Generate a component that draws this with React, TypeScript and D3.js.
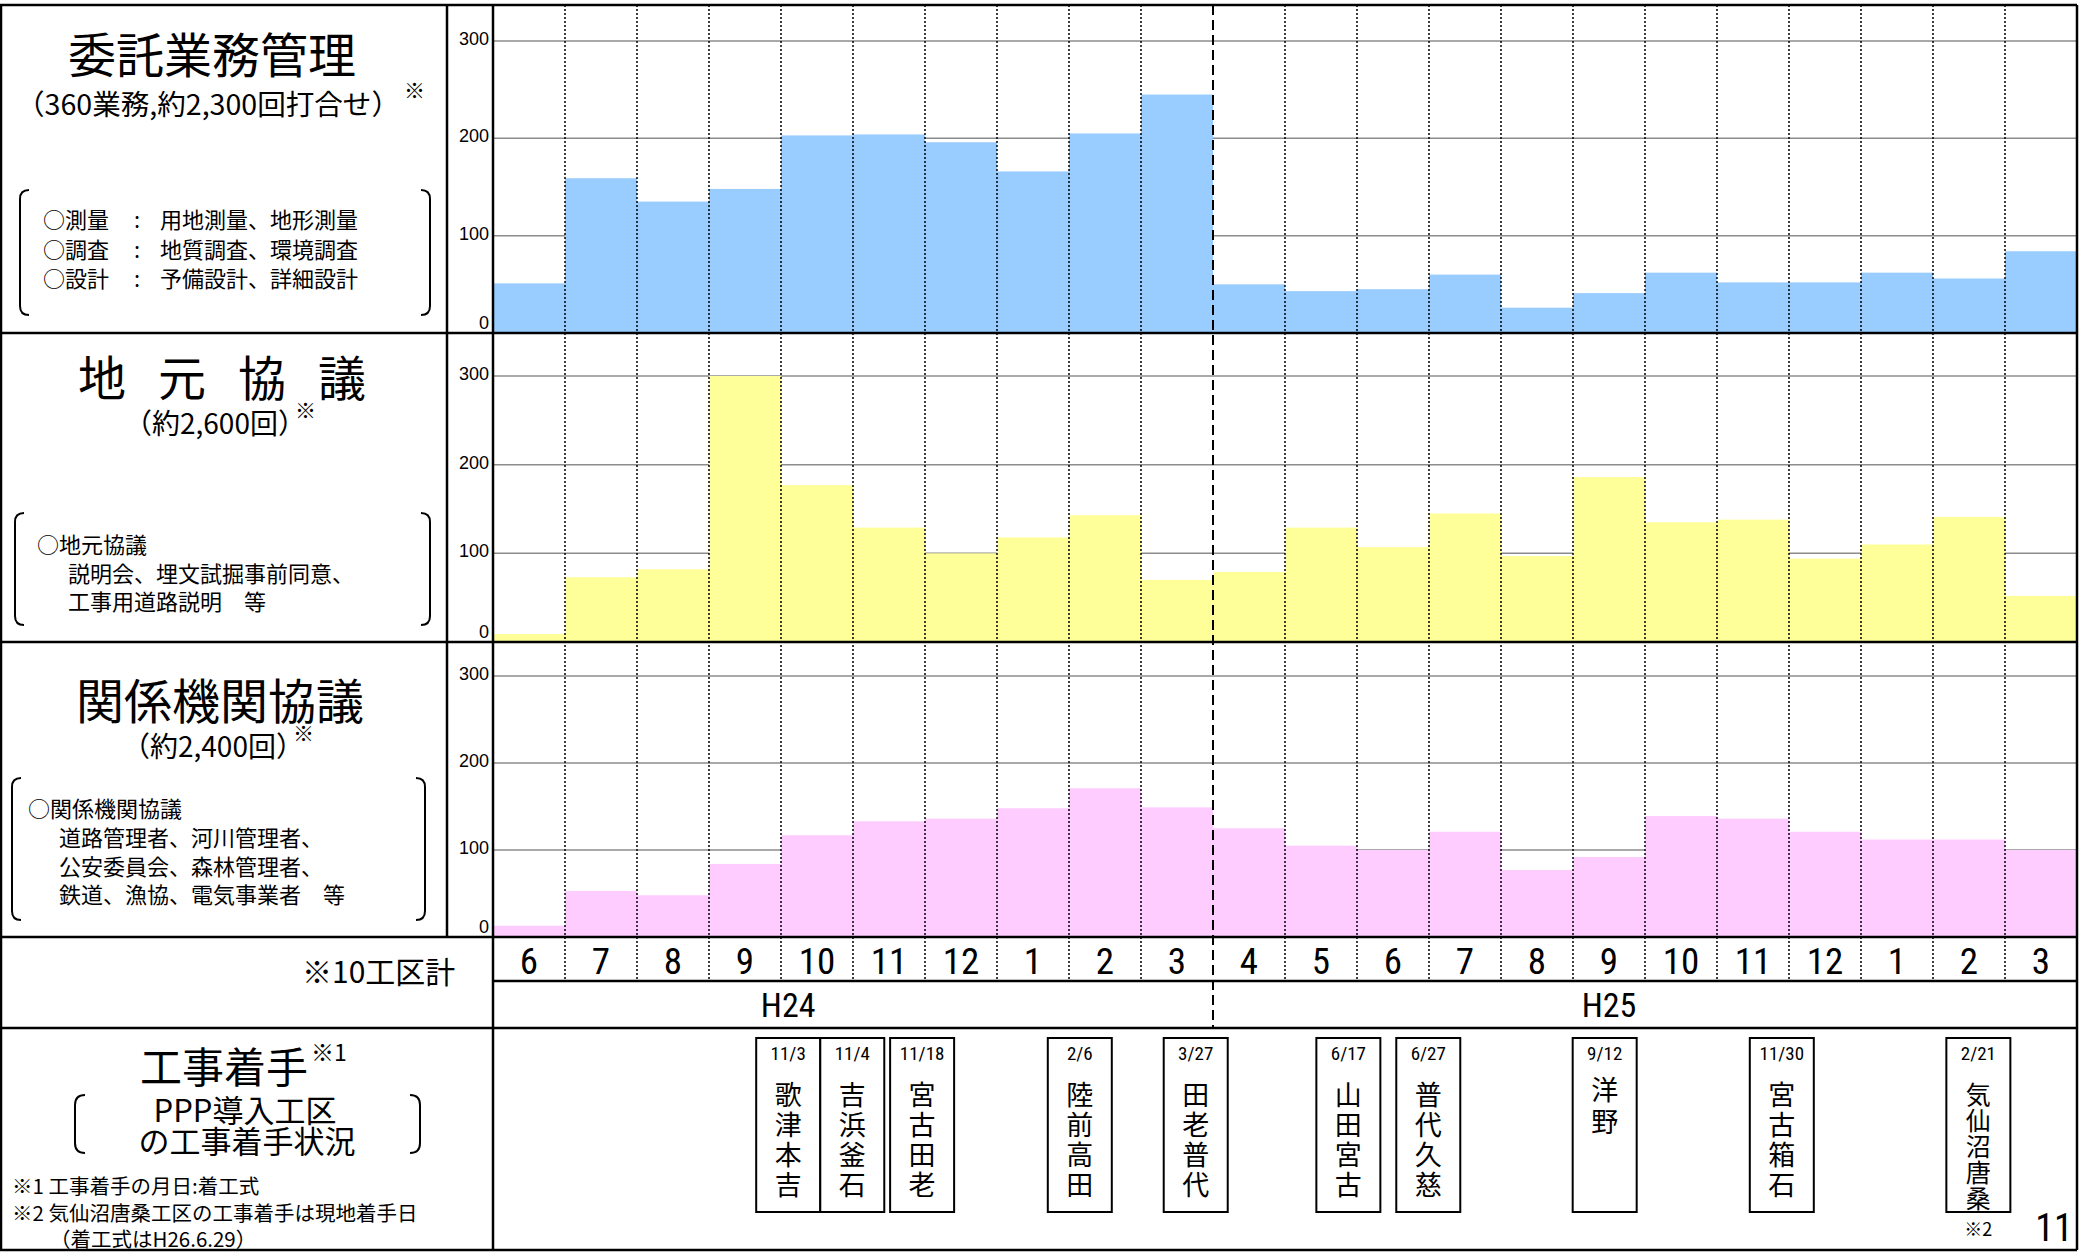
import React from 'react';
import * as d3 from 'd3';

// monthly counts, H24.6 - H26.3
const months = ['6', '7', '8', '9', '10', '11', '12', '1', '2', '3', '4', '5', '6', '7', '8', '9', '10', '11', '12', '1', '2', '3'];
const consignment = [51, 159, 135, 148, 203, 204, 196, 166, 205, 245, 50, 43, 45, 60, 26, 41, 62, 52, 52, 62, 56, 84];
const localTalks = [9, 73, 82, 300, 177, 129, 100, 118, 143, 70, 79, 129, 107, 145, 97, 186, 135, 138, 94, 110, 141, 52];
const agencyTalks = [13, 53, 48, 84, 117, 133, 136, 148, 171, 149, 125, 105, 100, 121, 77, 92, 139, 136, 121, 112, 112, 100];
const yTicks = [0, 100, 200, 300];
const fiscalYears = ['H24', 'H25'];
const yearSplit = 10; // index where H25 starts

const startDates = ['11/3', '11/4', '11/18', '2/6', '3/27', '6/17', '6/27', '9/12', '11/30', '2/21'];
const sections = ['歌津本吉', '吉浜釜石', '宮古田老', '陸前高田', '田老普代', '山田宮古', '普代久慈', '洋野', '宮古箱石', '気仙沼唐桑'];

// layout (in month units along the axis)
const boxSlots = [4.1, 4.99, 5.96, 8.15, 9.76, 11.88, 12.99, 15.44, 17.9, 20.63];
const yearLabelSlots = [4.1, 15.5];

const W = 2080, H = 1254;
const plotLeft = 493, plotRight = 2077;
const JP = "'Noto Sans CJK JP', 'Noto Sans', sans-serif";
const NARROW = "'Liberation Sans Narrow', 'Roboto Condensed', 'Noto Sans CJK JP', sans-serif";
const SANS = "'Liberation Sans', Arial, sans-serif";

const panels = [
    { values: consignment, color: '#99CCFF', base: 333, y300: 41 },
    { values: localTalks, color: '#FFFF99', base: 642, y300: 376 },
    { values: agencyTalks, color: '#FFCCFF', base: 937, y300: 676 },
];

function bracket(xl: number, xr: number, yt: number, yb: number, r = 9) {
    const left = `M${xl + r},${yt} Q${xl},${yt} ${xl},${yt + r} L${xl},${yb - r} Q${xl},${yb} ${xl + r},${yb}`;
    const right = `M${xr - r},${yt} Q${xr},${yt} ${xr},${yt + r} L${xr},${yb - r} Q${xr},${yb} ${xr - r},${yb}`;
    return (
        <g fill="none" stroke="#000" strokeWidth={2}>
            <path d={left} />
            <path d={right} />
        </g>
    );
}

// several lines in one text element
function lines(rows: { s: string, x: number }[], y0: number, step: number, size: number) {
    return (
        <text y={y0} fontSize={size} fontFamily={JP} dominantBaseline="central">
            {rows.map((r, i) => (
                <tspan key={i} x={r.x} y={y0 + i * step}>{r.s}</tspan>
            ))}
        </text>
    );
}

export default function App() {
    const x = d3.scaleBand<number>().domain(d3.range(months.length)).range([plotLeft, plotRight]).padding(0);
    const pos = d3.scaleLinear().domain([0, months.length]).range([plotLeft, plotRight]);
    const bw = x.bandwidth();

    const txt = (s: string, px: number, py: number, size: number, extra: any = {}) => (
        <text x={px} y={py} fontSize={size} fontFamily={JP} dominantBaseline="central" {...extra}>{s}</text>
    );

    return (
        <svg width={W} height={H} style={{ position: 'absolute', left: 0, top: 0, background: '#fff' }}>
            <rect x={0} y={0} width={W} height={H} fill="#fff" />

            {/* bar panels */}
            {panels.map((p, pi) => {
                const y = d3.scaleLinear().domain([0, 300]).range([p.base, p.y300]);
                return (
                    <g key={pi}>
                        {yTicks.filter(t => t > 0).map(t => (
                            <line key={t} x1={plotLeft} x2={plotRight} y1={y(t)} y2={y(t)} stroke="#8c8c8c" strokeWidth={1.5} />
                        ))}
                        {p.values.map((v, i) => (
                            <rect key={i} x={x(i)} y={y(v)} width={bw} height={p.base - y(v)} fill={p.color} />
                        ))}
                        {yTicks.map(t => (
                            <text key={t} x={489} y={t === 0 ? y(t) - 10 : y(t) - 2} textAnchor="end"
                                dominantBaseline="central" fontSize={18} fontFamily={SANS}>{t}</text>
                        ))}
                    </g>
                );
            })}

            {/* month boundaries */}
            {d3.range(1, months.length).map(i => i === yearSplit ? (
                <line key={i} x1={x(i)} x2={x(i)} y1={5} y2={1028} stroke="#000" strokeWidth={2} strokeDasharray="10 5" />
            ) : (
                <line key={i} x1={x(i)} x2={x(i)} y1={5} y2={981} stroke="#000" strokeWidth={1.5} strokeDasharray="2 2" />
            ))}

            {/* frame */}
            <g stroke="#000" strokeWidth={2.5}>
                <line x1={0} x2={plotRight} y1={5} y2={5} />
                <line x1={0} x2={plotRight} y1={333} y2={333} />
                <line x1={0} x2={plotRight} y1={642} y2={642} />
                <line x1={0} x2={plotRight} y1={937} y2={937} />
                <line x1={plotLeft} x2={plotRight} y1={981} y2={981} />
                <line x1={0} x2={plotRight} y1={1028} y2={1028} />
                <line x1={0} x2={plotRight} y1={1250} y2={1250} />
                <line x1={1} x2={1} y1={5} y2={1250} />
                <line x1={447} x2={447} y1={5} y2={937} />
                <line x1={plotLeft} x2={plotLeft} y1={5} y2={1250} />
                <line x1={plotRight} x2={plotRight} y1={5} y2={1250} />
            </g>

            {/* month labels */}
            {months.map((m, i) => (
                <text key={i} x={x(i)! + bw / 2} y={961} textAnchor="middle" dominantBaseline="central"
                    fontSize={37} fontFamily={NARROW}>{m}</text>
            ))}
            {fiscalYears.map((fy, i) => (
                <text key={fy} x={pos(yearLabelSlots[i])} y={1005} textAnchor="middle" dominantBaseline="central"
                    fontSize={34} fontFamily={NARROW}>{fy}</text>
            ))}

            {/* panel 1 text */}
            {txt('委託業務管理', 212, 52, 48, { textAnchor: 'middle' })}
            {txt('（360業務,約2,300回打合せ）', 16, 103, 28, { textLength: 384, lengthAdjust: 'spacingAndGlyphs' })}
            {txt('※', 404, 89, 21)}
            {bracket(20, 430, 190, 315)}
            {lines([{ s: '○測量', x: 43 }, { s: '○調査', x: 43 }, { s: '○設計', x: 43 }], 218, 29.5, 22)}
            {lines([{ s: ':', x: 134 }, { s: ':', x: 134 }, { s: ':', x: 134 }], 218, 29.5, 22)}
            {lines([{ s: '用地測量、地形測量', x: 160 }, { s: '地質調査、環境調査', x: 160 }, { s: '予備設計、詳細設計', x: 160 }], 218, 29.5, 22)}

            {/* panel 2 text */}
            <text y={375} fontSize={48} fontFamily={JP} dominantBaseline="central" textAnchor="middle">
                {'地元協議'.split('').map((c, i) => (
                    <tspan key={i} x={102 + i * 80}>{c}</tspan>
                ))}
            </text>
            {txt('（約2,600回）', 124, 422, 28)}
            {txt('※', 295, 409, 21)}
            {bracket(15, 430, 513, 625)}
            {lines([
                { s: '○地元協議', x: 37 },
                { s: '説明会、埋文試掘事前同意、', x: 68 },
                { s: '工事用道路説明　等', x: 68 },
            ], 543, 28.5, 22)}

            {/* panel 3 text */}
            {txt('関係機関協議', 220, 698, 48, { textAnchor: 'middle' })}
            {txt('（約2,400回）', 122, 745, 28)}
            {txt('※', 293, 732, 21)}
            {bracket(12, 425, 778, 920)}
            {lines([
                { s: '○関係機関協議', x: 28 },
                { s: '道路管理者、河川管理者、', x: 59 },
                { s: '公安委員会、森林管理者、', x: 59 },
                { s: '鉄道、漁協、電気事業者　等', x: 59 },
            ], 807, 28.8, 22)}

            {/* axis row label */}
            {txt('※10工区計', 302, 970, 30)}

            {/* construction start */}
            {txt('工事着手', 140, 1064, 42)}
            {txt('※1', 311, 1051, 23)}
            {bracket(75, 420, 1095, 1153, 10)}
            <text fontSize={31} fontFamily={JP} dominantBaseline="central" textAnchor="middle">
                <tspan x={245} y={1108}>PPP導入工区</tspan>
                <tspan x={247} y={1139}>の工事着手状況</tspan>
            </text>
            {lines([
                { s: '※1 工事着手の月日:着工式', x: 12 },
                { s: '※2 気仙沼唐桑工区の工事着手は現地着手日', x: 12 },
                { s: '（着工式はH26.6.29）', x: 50 },
            ], 1185, 26.5, 20.5)}

            {startDates.map((d, i) => {
                const cx = pos(boxSlots[i]);
                const name = sections[i].split('');
                const step = name.length > 4 ? 26 : name.length < 3 ? 32 : 30;
                const y0 = name.length < 3 ? 1088 : 1093;
                return (
                    <g key={i}>
                        <rect x={cx - 32} y={1038} width={64} height={174} fill="#fff" stroke="#000" strokeWidth={2} />
                        <text x={cx} y={1053} textAnchor="middle" dominantBaseline="central" fontSize={19} fontFamily={NARROW}>{d}</text>
                        <text textAnchor="middle" dominantBaseline="central" fontSize={name.length > 4 ? 25 : 27} fontFamily={JP}>
                            {name.map((c, k) => (
                                <tspan key={k} x={cx} y={y0 + k * step}>{c}</tspan>
                            ))}
                        </text>
                    </g>
                );
            })}
            <text x={pos(boxSlots[9])} y={1228} textAnchor="middle" dominantBaseline="central" fontSize={18} fontFamily={JP}>※2</text>
            <text x={2054} y={1228} textAnchor="middle" dominantBaseline="central" fontSize={38} fontFamily={NARROW}>11</text>
        </svg>
    );
}
